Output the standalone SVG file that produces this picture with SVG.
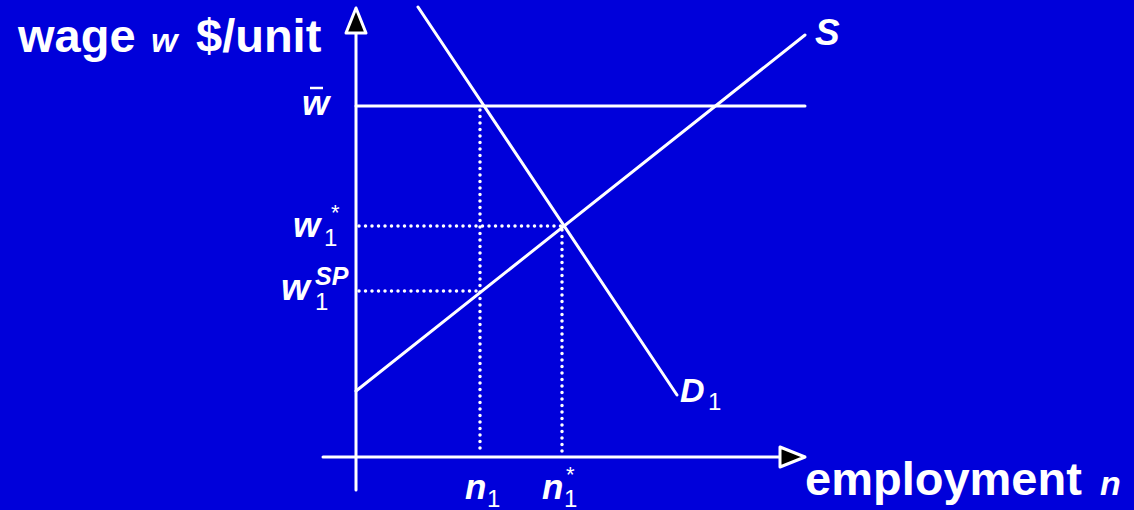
<svg xmlns="http://www.w3.org/2000/svg" width="1134" height="510" viewBox="0 0 1134 510">
<defs>
<style>
.ln{stroke:#fff;stroke-width:3;fill:none;stroke-linecap:round}
.dot{stroke:#fff;stroke-width:3.5;fill:none;stroke-linecap:round;stroke-dasharray:0 6.5}
.arr{fill:#000;stroke:#fff;stroke-width:3;stroke-linejoin:round}
text{font-family:"Liberation Sans",Arial,sans-serif;font-weight:bold;fill:#fff}
.it{font-style:italic}
.sub{font-weight:normal;font-size:24px}
.ast{font-weight:normal;font-size:22px}
</style>
</defs>
<rect width="1134" height="510" fill="#0000DA"/>
<g id="axes">
<line class="ln" x1="356" y1="490" x2="356" y2="30"/>
<polygon class="arr" points="356,8 366,33 346,33"/>
<line class="ln" x1="323" y1="457" x2="782" y2="457"/>
<polygon class="arr" points="805,457 780,447 780,467"/>
</g>
<g id="connectors">
<line class="ln" x1="356" y1="106" x2="805" y2="106"/>
<line class="ln" x1="356" y1="391" x2="805" y2="35"/>
<line class="ln" x1="418" y1="7" x2="677" y2="395"/>
<line class="dot" x1="359" y1="226" x2="562" y2="226"/>
<line class="dot" x1="359" y1="291" x2="480" y2="291"/>
<line class="dot" x1="480" y1="110" x2="480" y2="453"/>
<line class="dot" x1="562" y1="230" x2="562" y2="453"/>
</g>
<g id="ylabel"><text x="18" y="52" font-size="47">wage</text><text class="it" x="151" y="52" font-size="34">w</text><text x="196" y="52" font-size="47">$/unit</text></g>
<g id="xlabel"><text x="805" y="495" font-size="47">employment</text><text class="it" x="1100" y="495" font-size="34">n</text></g>
<g id="wbar"><text class="it" x="302" y="115" font-size="35">w</text><line x1="310" y1="88" x2="323" y2="88" stroke="#fff" stroke-width="2.5"/></g>
<g id="wstar"><text class="it" x="293" y="237" font-size="35">w</text><text class="sub" x="324" y="246">1</text><text class="ast" x="331" y="220">*</text></g>
<g id="wsp"><text class="it" x="281" y="300" font-size="37">w</text><text class="sub" x="315" y="310">1</text><text class="it" x="315" y="285" font-size="25">SP</text></g>
<g id="n1"><text class="it" x="465" y="499" font-size="35">n</text><text class="sub" x="487" y="507">1</text></g>
<g id="nstar"><text class="it" x="542" y="499" font-size="35">n</text><text class="sub" x="564" y="507">1</text><text class="ast" x="566" y="482">*</text></g>
<g id="D1"><text class="it" x="680" y="402" font-size="34">D</text><text class="sub" x="708" y="410">1</text></g>
<g id="S"><text class="it" x="815" y="45" font-size="37">S</text></g>
</svg>
